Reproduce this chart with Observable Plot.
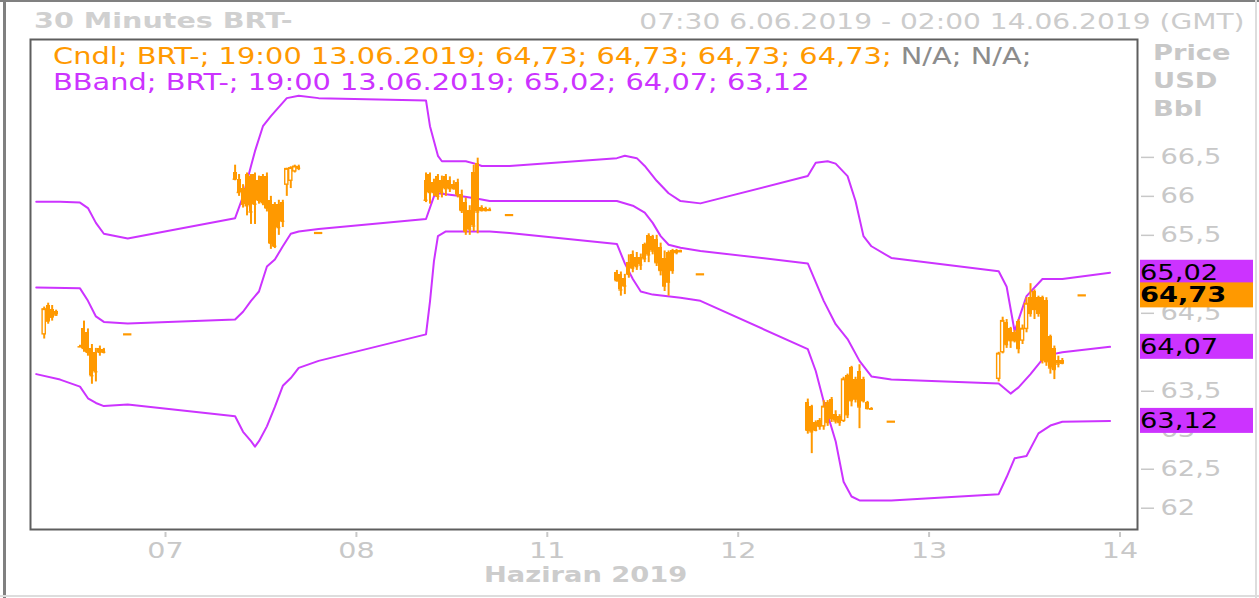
<!DOCTYPE html>
<html><head><meta charset="utf-8">
<script src="https://cdn.jsdelivr.net/npm/d3@7"></script>
<script src="https://cdn.jsdelivr.net/npm/@observablehq/plot@0.6"></script>
<style>
body{margin:0;background:#fff;}
#wrap{position:relative;width:1259px;height:598px;overflow:hidden;font-family:"DejaVu Sans",sans-serif;background:#fff;}
#wrap svg{position:absolute;left:0;top:0;}
.t{position:absolute;white-space:nowrap;transform-origin:0 0;transform:scaleX(1.3);line-height:1;}
.r{transform-origin:100% 0;}
.bl{position:absolute;}
</style></head><body><div id="wrap"></div>
<script>
// ---------------- data ----------------
const title = "30 Minutes BRT-";
const period = "07:30 6.06.2019 - 02:00 14.06.2019 (GMT)";
const unitLines = ["Price", "USD", "Bbl"];
const legendCndl = "Cndl; BRT-; 19:00 13.06.2019; 64,73; 64,73; 64,73; 64,73;";
const legendNA = " N/A; N/A;";
const legendBBand = "BBand; BRT-; 19:00 13.06.2019; 65,02; 64,07; 63,12";
const xLabel = "Haziran 2019";
const xTickLabels = ["07", "08", "11", "12", "13", "14"];
const yTicks = [62, 62.5, 63, 63.5, 64, 64.5, 65, 65.5, 66, 66.5];
const sessionDays = ["2019-06-06", "2019-06-07", "2019-06-10", "2019-06-11", "2019-06-12", "2019-06-13"];

const candleTime = [
 "2019-06-06 08:30","2019-06-06 09:00","2019-06-06 09:30","2019-06-06 10:00",
 "2019-06-06 13:00","2019-06-06 13:30","2019-06-06 14:00","2019-06-06 14:30","2019-06-06 15:00","2019-06-06 15:30","2019-06-06 16:00","2019-06-06 19:00",
 "2019-06-07 08:30","2019-06-07 09:00","2019-06-07 09:30","2019-06-07 10:00","2019-06-07 10:30","2019-06-07 11:00","2019-06-07 11:30","2019-06-07 12:00","2019-06-07 12:30","2019-06-07 13:00","2019-06-07 13:30","2019-06-07 14:00","2019-06-07 14:30","2019-06-07 15:00","2019-06-07 15:30","2019-06-07 16:00","2019-06-07 16:30","2019-06-07 19:00",
 "2019-06-10 08:30","2019-06-10 09:00","2019-06-10 09:30","2019-06-10 10:00","2019-06-10 10:30","2019-06-10 11:00","2019-06-10 11:30","2019-06-10 12:00","2019-06-10 12:30","2019-06-10 13:00","2019-06-10 13:30","2019-06-10 14:00","2019-06-10 14:30","2019-06-10 15:00","2019-06-10 15:30","2019-06-10 16:00","2019-06-10 16:30","2019-06-10 19:00",
 "2019-06-11 08:30","2019-06-11 09:00","2019-06-11 09:30","2019-06-11 10:00","2019-06-11 10:30","2019-06-11 11:00","2019-06-11 11:30","2019-06-11 12:00","2019-06-11 12:30","2019-06-11 13:00","2019-06-11 13:30","2019-06-11 14:00","2019-06-11 14:30","2019-06-11 15:00","2019-06-11 15:30","2019-06-11 16:00","2019-06-11 16:30","2019-06-11 19:00",
 "2019-06-12 08:30","2019-06-12 09:00","2019-06-12 09:30","2019-06-12 10:00","2019-06-12 10:30","2019-06-12 11:00","2019-06-12 11:30","2019-06-12 12:00","2019-06-12 12:30","2019-06-12 13:00","2019-06-12 13:30","2019-06-12 14:00","2019-06-12 14:30","2019-06-12 15:00","2019-06-12 15:30","2019-06-12 16:00","2019-06-12 16:30","2019-06-12 19:00",
 "2019-06-13 08:30","2019-06-13 09:00","2019-06-13 09:30","2019-06-13 10:00","2019-06-13 10:30","2019-06-13 11:00","2019-06-13 11:30","2019-06-13 12:00","2019-06-13 12:30","2019-06-13 13:00","2019-06-13 13:30","2019-06-13 14:00","2019-06-13 14:30","2019-06-13 15:00","2019-06-13 15:30","2019-06-13 16:00","2019-06-13 16:30","2019-06-13 19:00"
];
const candleOpen = [
 64.23,64.60,64.55,64.52,
 64.07,64.30,64.25,64.05,64.00,64.05,64.03,64.23,
 66.30,66.22,66.10,66.28,66.25,66.28,66.20,66.25,66.26,65.95,65.90,65.90,65.92,66.15,66.20,66.32,66.38,65.53,
 66.20,66.28,66.18,66.25,66.20,66.26,66.20,66.15,66.18,66.02,65.92,65.82,66.30,66.42,65.86,65.84,65.83,65.76,
 65.02,65.00,64.95,65.15,65.25,65.22,65.22,65.38,65.50,65.48,65.45,65.35,65.20,65.28,65.30,65.30,65.30,65.00,
 63.35,63.30,63.10,63.12,63.05,63.35,63.40,63.20,63.18,63.12,63.70,63.80,63.65,63.75,63.65,63.35,63.28,63.11,
 63.66,64.00,64.38,64.30,64.25,64.40,64.15,64.30,64.70,64.78,64.70,64.70,64.66,64.20,64.05,63.90,63.90,64.73
];
const candleHigh = [
 64.58,64.63,64.60,64.54,
 64.09,64.40,64.30,64.10,64.05,64.08,64.05,64.23,
 66.40,66.28,66.15,66.30,66.28,66.30,66.26,66.28,66.30,66.00,65.92,65.95,65.95,66.36,66.38,66.40,66.40,65.53,
 66.30,66.30,66.22,66.28,66.26,66.28,66.25,66.20,66.22,66.08,65.98,65.88,66.40,66.49,65.88,65.86,65.85,65.76,
 65.05,65.03,65.00,65.25,65.30,65.28,65.26,65.40,65.52,65.50,65.50,65.40,65.30,65.30,65.32,65.32,65.31,65.00,
 63.40,63.32,63.12,63.15,63.38,63.38,63.42,63.25,63.20,63.68,63.72,63.82,63.68,63.84,63.68,63.37,63.29,63.11,
 64.00,64.45,64.42,64.32,64.28,64.42,64.35,64.70,64.88,64.80,64.72,64.72,64.70,64.22,64.08,63.95,63.92,64.73
];
const candleLow = [
 64.17,64.36,64.40,64.46,
 64.06,64.00,63.95,63.59,63.62,63.95,63.98,64.23,
 66.20,66.00,65.85,65.75,65.64,65.64,65.90,65.88,65.80,65.32,65.33,65.50,65.60,66.00,66.10,66.30,66.33,65.53,
 65.92,65.90,66.00,65.95,65.98,66.00,66.05,66.08,65.98,65.78,65.50,65.50,65.55,65.52,65.80,65.80,65.81,65.76,
 64.90,64.72,64.74,64.95,65.02,65.05,65.05,65.15,65.15,65.25,65.10,64.98,64.78,64.72,65.00,65.25,65.28,65.00,
 62.95,62.70,62.98,63.00,63.00,63.05,63.10,63.08,63.05,63.10,63.15,63.30,63.35,63.02,63.35,63.26,63.26,63.11,
 63.62,63.98,64.05,64.05,64.12,63.98,64.10,64.25,64.45,64.42,64.45,63.85,63.82,63.72,63.65,63.80,63.84,64.73
];
const candleClose = [
 64.55,64.40,64.45,64.48,
 64.07,64.05,64.00,63.70,63.75,64.00,64.00,64.23,
 66.22,66.05,65.90,65.88,65.80,65.90,65.95,65.92,65.85,65.40,65.36,65.60,65.68,66.35,66.36,66.38,66.36,65.53,
 65.95,66.05,66.05,66.00,66.05,66.10,66.10,66.10,66.02,65.82,65.55,65.58,65.62,65.80,65.82,65.82,65.82,65.76,
 64.92,64.80,64.85,65.00,65.08,65.10,65.12,65.20,65.25,65.30,65.15,65.05,64.85,64.90,65.05,65.28,65.29,65.00,
 63.00,62.98,63.00,63.05,63.30,63.10,63.15,63.12,63.10,63.65,63.20,63.38,63.40,63.30,63.38,63.28,63.27,63.11,
 63.98,64.40,64.10,64.15,64.15,64.05,64.30,64.62,64.50,64.55,64.50,63.90,63.88,63.80,63.78,63.85,63.86,64.73
];

const upperTime = ["2019-06-06 07:30","2019-06-06 10:30","2019-06-06 13:00","2019-06-06 14:00","2019-06-06 15:00","2019-06-06 16:00","2019-06-06 19:00",
 "2019-06-07 08:30","2019-06-07 09:30","2019-06-07 10:30","2019-06-07 11:00","2019-06-07 12:00","2019-06-07 13:00","2019-06-07 15:00","2019-06-07 16:30","2019-06-07 19:00",
 "2019-06-10 08:30","2019-06-10 09:00","2019-06-10 10:00","2019-06-10 10:30","2019-06-10 13:30","2019-06-10 15:00","2019-06-10 15:30","2019-06-10 19:00",
 "2019-06-11 08:30","2019-06-11 09:30","2019-06-11 11:00","2019-06-11 12:00","2019-06-11 13:30","2019-06-11 15:00","2019-06-11 16:30","2019-06-11 19:00",
 "2019-06-12 08:30","2019-06-12 09:30","2019-06-12 11:00","2019-06-12 12:00","2019-06-12 13:30","2019-06-12 14:30","2019-06-12 15:30","2019-06-12 16:30","2019-06-12 19:00",
 "2019-06-13 08:30","2019-06-13 09:30","2019-06-13 10:30","2019-06-13 12:00","2019-06-13 14:00","2019-06-13 16:30","2019-06-13 22:30"];
const upperValue = [65.93,65.93,65.92,65.85,65.66,65.52,65.46,
 65.72,66.00,66.39,66.58,66.90,67.03,67.26,67.29,67.26,
 67.23,66.90,66.52,66.45,66.45,66.41,66.39,66.39,
 66.49,66.52,66.49,66.39,66.20,66.04,65.94,65.91,
 66.26,66.43,66.45,66.42,66.26,65.94,65.49,65.36,65.21,
 65.04,64.84,64.27,64.72,64.94,64.94,65.02];

const middleTime = ["2019-06-06 07:30","2019-06-06 13:00","2019-06-06 14:00","2019-06-06 15:00","2019-06-06 16:00","2019-06-06 19:00",
 "2019-06-07 08:30","2019-06-07 09:30","2019-06-07 10:30","2019-06-07 11:30","2019-06-07 12:30","2019-06-07 13:30","2019-06-07 14:30","2019-06-07 15:30","2019-06-07 16:30","2019-06-07 19:00",
 "2019-06-10 08:30","2019-06-10 09:30","2019-06-10 10:00","2019-06-10 13:00","2019-06-10 15:00","2019-06-10 16:30","2019-06-10 19:00",
 "2019-06-11 08:30","2019-06-11 10:30","2019-06-11 12:00","2019-06-11 13:00","2019-06-11 14:00","2019-06-11 15:00","2019-06-11 16:30","2019-06-11 19:00",
 "2019-06-12 08:30","2019-06-12 09:30","2019-06-12 10:30","2019-06-12 12:00","2019-06-12 13:30","2019-06-12 15:00","2019-06-12 16:30","2019-06-12 19:00",
 "2019-06-13 08:30","2019-06-13 10:00","2019-06-13 11:00","2019-06-13 12:30","2019-06-13 14:00","2019-06-13 15:00","2019-06-13 16:30","2019-06-13 22:30"];
const middleValue = [64.83,64.82,64.66,64.46,64.39,64.37,
 64.42,64.52,64.66,64.78,65.10,65.19,65.36,65.52,65.55,65.58,
 65.71,66.00,66.04,66.00,65.97,65.94,65.94,
 65.94,65.88,65.79,65.66,65.49,65.38,65.34,65.30,
 65.14,64.90,64.66,64.36,64.17,63.89,63.69,63.65,
 63.60,63.47,63.55,63.72,63.91,63.97,64.00,64.07];

const lowerTime = ["2019-06-06 07:30","2019-06-06 10:30","2019-06-06 13:00","2019-06-06 14:00","2019-06-06 15:00","2019-06-06 16:00","2019-06-06 19:00",
 "2019-06-07 08:30","2019-06-07 09:30","2019-06-07 10:30","2019-06-07 11:00","2019-06-07 11:30","2019-06-07 12:30","2019-06-07 13:30","2019-06-07 14:30","2019-06-07 15:30","2019-06-07 16:30","2019-06-07 19:00",
 "2019-06-10 08:30","2019-06-10 09:00","2019-06-10 09:30","2019-06-10 10:00","2019-06-10 11:00","2019-06-10 16:30","2019-06-10 19:00",
 "2019-06-11 08:30","2019-06-11 09:30","2019-06-11 10:30","2019-06-11 11:30","2019-06-11 13:00","2019-06-11 16:30","2019-06-11 19:00",
 "2019-06-12 08:30","2019-06-12 09:30","2019-06-12 10:30","2019-06-12 12:00","2019-06-12 13:00","2019-06-12 14:00","2019-06-12 15:00","2019-06-12 19:00",
 "2019-06-13 08:30","2019-06-13 09:30","2019-06-13 10:30","2019-06-13 12:00","2019-06-13 13:30","2019-06-13 15:00","2019-06-13 16:30","2019-06-13 22:30"];
const lowerValue = [63.72,63.65,63.56,63.41,63.35,63.31,63.33,
 63.18,62.98,62.86,62.79,62.86,63.05,63.30,63.57,63.67,63.80,63.89,
 64.23,64.65,65.17,65.49,65.55,65.55,65.53,
 65.39,65.14,64.94,64.78,64.74,64.70,64.66,
 64.04,63.76,63.37,62.86,62.34,62.15,62.10,62.10,
 62.18,62.40,62.64,62.67,62.96,63.06,63.11,63.12];

const badgeValues = [65.02, 64.73, 64.07, 63.12];
const badgeLabels = ["65,02", "64,73", "64,07", "63,12"];

// ---------------- helpers ----------------
const ORANGE = "#ff9900", PURPLE = "#cc33ff", GREY = "#c8c8c8";
const dayIdx = Object.fromEntries(sessionDays.map((d, i) => [d, i - 1]));
function tpos(s) {
  const [d, h] = s.split(" ");
  const [hh, mm] = h.split(":").map(Number);
  return dayIdx[d] + (hh + mm / 60 + 0.25) / 24;
}
const candles = candleTime.map((s, i) => ({
  t: tpos(s), open: candleOpen[i], high: candleHigh[i], low: candleLow[i], close: candleClose[i]
}));
const half = 15 / 60 / 24;
const isFlat = d => d.open === d.close && d.high === d.low;
const flat = candles.filter(isFlat);
const real = candles.filter(d => !isFlat(d));
const up = real.filter(d => d.close > d.open);
const down = real.filter(d => d.close <= d.open);
const band = (T, V) => T.map((s, i) => ({t: tpos(s), v: V[i]}));

const wrap = document.getElementById("wrap");
const W = 1259, H = 598;

const plot = Plot.plot({
  width: W, height: H,
  marginLeft: 30, marginRight: 122, marginTop: 39, marginBottom: 69,
  style: {fontFamily: "DejaVu Sans, sans-serif", background: "transparent"},
  x: {type: "linear", domain: [-0.7072, 5.0917]},
  y: {type: "linear", domain: [61.727, 68.012]},
  marks: [
    Plot.line(band(upperTime, upperValue), {x: "t", y: "v", stroke: PURPLE, strokeWidth: 2}),
    Plot.line(band(middleTime, middleValue), {x: "t", y: "v", stroke: PURPLE, strokeWidth: 2}),
    Plot.line(band(lowerTime, lowerValue), {x: "t", y: "v", stroke: PURPLE, strokeWidth: 2}),
    Plot.ruleX(real, {x: "t", y1: "low", y2: "high", stroke: ORANGE, strokeWidth: 2}),
    Plot.rect(down, {x1: d => d.t - half, x2: d => d.t + half, y1: "open", y2: "close", fill: ORANGE, shapeRendering: "crispEdges"}),
    Plot.rect(up, {x1: d => d.t - half * 0.8, x2: d => d.t + half * 0.8, y1: "open", y2: "close", fill: "white", stroke: ORANGE, strokeWidth: 1.4}),
    Plot.ruleY(real, {y: "close", x1: d => d.t - half, x2: d => d.t + half, stroke: ORANGE, strokeWidth: 1.5}),
    Plot.ruleY(flat, {y: "close", x1: d => d.t - 2.1 * half, x2: d => d.t + 2.1 * half, stroke: ORANGE, strokeWidth: 2.2}),
    Plot.frame({stroke: "#5e5e5e", strokeWidth: 2}),
    Plot.axisX({ticks: [0, 1, 2, 3, 4, 5], tickFormat: i => xTickLabels[i], tickSize: 5, tickPadding: 5, dy: 3,
      color: GREY, strokeWidth: 2, fontSize: 22, label: null}),
    Plot.axisY({anchor: "right", ticks: yTicks, tickFormat: d => String(d).replace(".", ","), tickSize: 13, tickPadding: 7, dx: 3,
      color: GREY, strokeWidth: 1.5, fontSize: 21, label: null})
  ]
});
wrap.appendChild(plot);

// stretch axis tick labels horizontally like the reference
d3.select(plot).selectAll('g[aria-label$="tick label"] text').each(function() {
  const tr = this.getAttribute("transform") || "";
  this.setAttribute("transform", tr + " scale(1.3,1)");
});

// last-value badges on the price axis
const ys = plot.scale("y");
const svg = d3.select(plot);
const badgeColors = [PURPLE, ORANGE, PURPLE, PURPLE];
badgeValues.forEach((v, i) => {
  const cy = ys.apply(v);
  svg.append("rect").attr("x", 1140).attr("y", cy - 12.5).attr("width", 113).attr("height", 25).attr("fill", badgeColors[i]);
  svg.append("text").attr("transform", `translate(1140,${cy + 7.5}) scale(1.3,1)`)
    .attr("text-anchor", "start").attr("font-size", 21).attr("font-weight", i === 1 ? "bold" : "normal")
    .attr("fill", "#000").text(badgeLabels[i]);
});

// texts
function addText(txt, opts) {
  const el = document.createElement("div");
  el.className = "t" + (opts.right != null ? " r" : "");
  el.style.fontSize = opts.size + "px";
  el.style.top = (opts.baseline - 0.846 * opts.size) + "px";
  if (opts.right != null) el.style.right = opts.right + "px"; else el.style.left = opts.left + "px";
  if (opts.bold) el.style.fontWeight = "bold";
  el.style.color = opts.color;
  if (opts.html) el.innerHTML = txt; else el.textContent = txt;
  wrap.appendChild(el);
}
addText(title, {size: 22, baseline: 28.5, left: 34, bold: true, color: "#d0d0d0"});
addText(period, {size: 21.6, baseline: 29, right: 14, color: "#cccccc"});
addText(`<span style="color:${ORANGE}">${legendCndl}</span><span style="color:#8c8c8c">${legendNA}</span>`, {size: 22.2, baseline: 64, left: 53, color: ORANGE, html: true});
addText(legendBBand, {size: 22.2, baseline: 90, left: 53, color: PURPLE});
unitLines.forEach((s, i) => addText(s, {size: 21, baseline: 61 + 28 * i, left: 1153, bold: true, color: "#c8c8c8"}));
addText(xLabel, {size: 21, baseline: 583, left: 484, bold: true, color: "#cccccc"});

// page borders
["left:3px;top:0;width:3px;height:598px;background:#808080",
 "left:0;top:0;width:1259px;height:2px;background:#808080",
 "left:1255px;top:0;width:2px;height:598px;background:#dddddd",
 "left:0;top:595px;width:1259px;height:2px;background:#dddddd"].forEach(css => {
  const b = document.createElement("div"); b.className = "bl"; b.style.cssText += css; wrap.appendChild(b);
});
</script></body></html>
